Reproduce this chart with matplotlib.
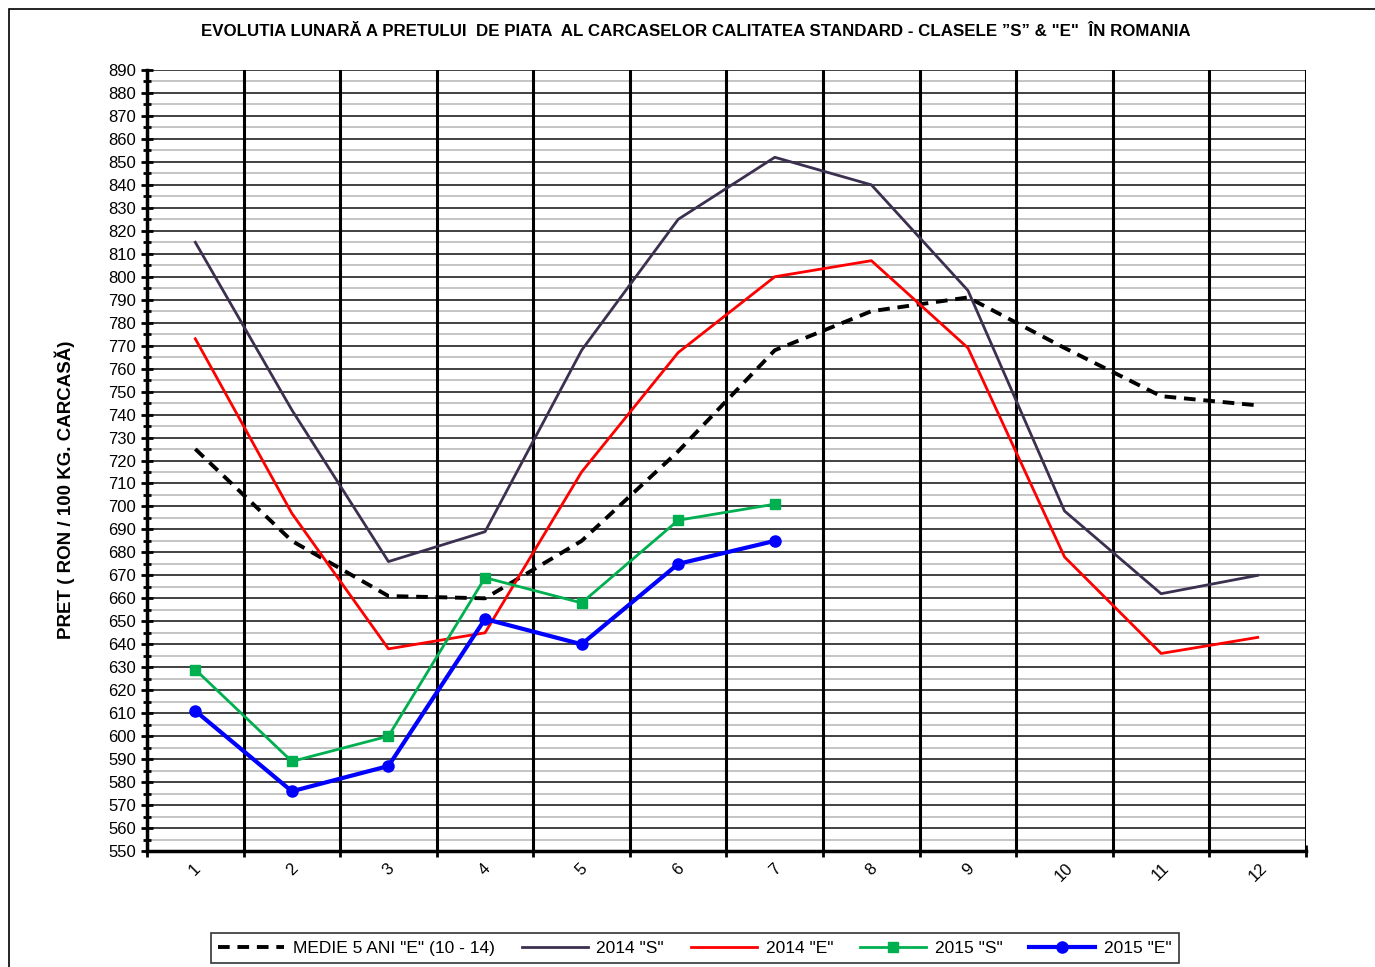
import matplotlib
matplotlib.use("Agg")
import matplotlib.pyplot as plt
from matplotlib.patches import Rectangle
from matplotlib.ticker import MultipleLocator, FixedLocator, NullFormatter

plt.rcParams['font.family'] = ['Liberation Sans', 'DejaVu Sans']

months = ["1", "2", "3", "4", "5", "6", "7", "8", "9", "10", "11", "12"]
medie_5ani_E = [725, 685, 661, 660, 685, 724, 768, 785, 791, 769, 748, 744]
s2014 = [815, 742, 676, 689, 768, 825, 852, 840, 794, 698, 662, 670]
e2014 = [773, 697, 638, 645, 715, 767, 800, 807, 769, 678, 636, 643]
s2015 = [629, 589, 600, 669, 658, 694, 701]
e2015 = [611, 576, 587, 651, 640, 675, 685]

fig = plt.figure(figsize=(13.75, 9.67), dpi=100)
fig.patches.append(Rectangle((9/1375, -0.1), 1.2, 1 + 0.1 - 9/967,
                             transform=fig.transFigure, fill=False,
                             edgecolor='black', linewidth=1.2))
ax = fig.add_axes([147/1375, 1 - 851/967, (1306 - 147)/1375, (851 - 70)/967])

x = list(range(len(months)))
l1, = ax.plot(x, medie_5ani_E, color='black', lw=2.8, ls=(0, (3, 2)),
              label='MEDIE 5 ANI "E" (10 - 14)', zorder=5)
l2, = ax.plot(x, s2014, color='#3c3050', lw=2.0, label='2014 "S"', zorder=5)
l3, = ax.plot(x, e2014, color='#ff0000', lw=2.0, label='2014 "E"', zorder=5)
l4, = ax.plot(x[:len(s2015)], s2015, color='#00b050', lw=2.0, marker='s',
              ms=7, label='2015 "S"', zorder=6)
l5, = ax.plot(x[:len(e2015)], e2015, color='#0000ff', lw=3.0, marker='o',
              ms=8, label='2015 "E"', zorder=6)

ax.set_xlim(-0.5, 11.5)
ax.set_ylim(550, 890)
ax.yaxis.set_major_locator(MultipleLocator(10))
ax.yaxis.set_minor_locator(MultipleLocator(5))
ax.xaxis.set_major_locator(FixedLocator([i - 0.5 for i in range(13)]))
ax.xaxis.set_major_formatter(NullFormatter())
ax.xaxis.set_minor_locator(FixedLocator(x))
ax.set_xticks(x, months, minor=True)
for lab in ax.get_xticklabels(minor=True):
    lab.set_rotation(45)
    lab.set_fontsize(12)
ax.tick_params(axis='x', which='minor', length=0, pad=7)
ax.tick_params(axis='x', which='major', direction='inout', length=8, width=2)
ax.tick_params(axis='y', which='major', direction='inout', length=8, width=2,
               labelsize=12, pad=4)
ax.tick_params(axis='y', which='minor', direction='inout', length=6, width=2)

ax.grid(axis='y', which='major', color='#333333', lw=1.3)
ax.grid(axis='y', which='minor', color='#c0c0c0', lw=1.3)
ax.grid(axis='x', which='major', color='black', lw=2.2)
ax.set_axisbelow(True)
ax.yaxis.set_zorder(0.5)
ax.xaxis.set_zorder(0.7)
for side in ['top', 'right']:
    ax.spines[side].set_visible(False)
ax.spines['left'].set_linewidth(2.5)
ax.spines['bottom'].set_linewidth(2.5)

ax.set_ylabel('PRET ( RON / 100 KG. CARCASĂ)', fontsize=13.5, fontweight='bold')
ax.yaxis.set_label_coords((75 - 147) / 1159, (851 - 490) / 781)
fig.text(696/1375, 1 - 32/967,
         'EVOLUTIA LUNARĂ A PRETULUI  DE PIATA  AL CARCASELOR CALITATEA STANDARD - CLASELE ”S” & "E"  ÎN ROMANIA',
         ha='center', va='center', fontsize=12.2, fontweight='bold')

leg = fig.legend(handles=[l1, l2, l3, l4, l5], loc='center',
                 bbox_to_anchor=(695/1375, 1 - 948/967), ncol=5, fontsize=12.5,
                 frameon=True, fancybox=False, edgecolor='black',
                 handlelength=3.8, columnspacing=1.55, borderpad=0.4,
                 handletextpad=0.5)
leg.get_frame().set_linewidth(1.2)

fig.savefig('out.png', dpi=100)
